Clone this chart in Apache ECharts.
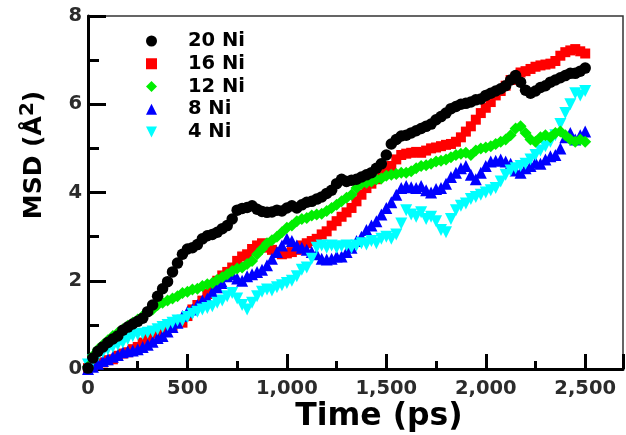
<!DOCTYPE html>
<html>
<head>
<meta charset="utf-8">
<script src="https://cdn.jsdelivr.net/npm/echarts@6/dist/echarts.min.js"></script>
<style>html,body{margin:0;padding:0;background:#fff;}#c{width:626px;height:435px;}</style>
</head>
<body>
<div id="c"></div>
<script>
const times = [0,25,50,75,100,125,150,175,200,225,250,275,300,325,350,375,400,425,450,475,500,525,550,575,600,625,650,675,700,725,750,775,800,825,850,875,900,925,950,975,1000,1025,1050,1075,1100,1125,1150,1175,1200,1225,1250,1275,1300,1325,1350,1375,1400,1425,1450,1475,1500,1525,1550,1575,1600,1625,1650,1675,1700,1725,1750,1775,1800,1825,1850,1875,1900,1925,1950,1975,2000,2025,2050,2075,2100,2125,2150,2175,2200,2225,2250,2275,2300,2325,2350,2375,2400,2425,2450,2475,2500];
const ni20 = [0.02,0.25,0.4,0.5,0.6,0.68,0.75,0.88,0.95,1.02,1.08,1.15,1.3,1.45,1.65,1.82,1.98,2.2,2.4,2.6,2.72,2.75,2.82,2.95,3.02,3.05,3.1,3.18,3.25,3.4,3.6,3.64,3.66,3.7,3.62,3.57,3.55,3.56,3.6,3.58,3.65,3.7,3.65,3.72,3.78,3.8,3.85,3.9,3.98,4.05,4.2,4.3,4.25,4.28,4.3,4.35,4.4,4.45,4.55,4.65,4.85,5.1,5.2,5.28,5.3,5.35,5.4,5.45,5.5,5.55,5.65,5.72,5.8,5.9,5.95,6.0,6.02,6.05,6.1,6.12,6.2,6.25,6.3,6.35,6.42,6.55,6.65,6.5,6.32,6.25,6.3,6.38,6.42,6.5,6.55,6.6,6.65,6.7,6.7,6.75,6.82];
const ni16 = [0.02,0.08,0.12,0.15,0.2,0.22,0.3,0.35,0.38,0.45,0.5,0.6,0.68,0.85,0.8,0.9,0.95,0.98,1.05,1.05,1.2,1.35,1.45,1.55,1.7,1.85,2.0,2.12,2.2,2.3,2.45,2.55,2.6,2.72,2.8,2.85,2.75,2.7,2.65,2.6,2.62,2.65,2.7,2.8,2.85,2.9,2.95,3.05,3.12,3.25,3.35,3.45,3.55,3.65,3.8,3.95,4.1,4.2,4.3,4.4,4.5,4.6,4.75,4.85,4.88,4.9,4.92,4.9,4.95,5.0,5.02,5.05,5.08,5.1,5.15,5.25,5.38,5.5,5.65,5.8,5.92,6.05,6.2,6.3,6.42,6.55,6.62,6.72,6.75,6.8,6.85,6.88,6.9,6.92,6.98,7.1,7.18,7.22,7.25,7.2,7.15];
const ni12 = [0.05,0.3,0.45,0.55,0.65,0.75,0.82,0.9,0.98,1.05,1.12,1.2,1.3,1.35,1.45,1.5,1.55,1.6,1.65,1.72,1.75,1.8,1.82,1.88,1.92,1.95,2.02,2.08,2.15,2.22,2.28,2.3,2.38,2.45,2.6,2.72,2.85,2.92,3.0,3.1,3.2,3.25,3.35,3.4,3.42,3.48,3.5,3.52,3.58,3.65,3.72,3.8,3.88,3.95,4.1,4.2,4.22,4.25,4.3,4.32,4.38,4.4,4.42,4.45,4.45,4.48,4.55,4.6,4.62,4.65,4.7,4.72,4.75,4.8,4.85,4.88,4.9,4.85,4.95,5.0,5.02,5.05,5.1,5.15,5.2,5.3,5.45,5.5,5.35,5.2,5.15,5.25,5.3,5.25,5.35,5.38,5.3,5.2,5.15,5.2,5.15];
const ni8 = [0.0,0.05,0.12,0.18,0.22,0.28,0.32,0.38,0.4,0.42,0.45,0.5,0.55,0.62,0.7,0.75,0.85,0.95,1.05,1.2,1.3,1.35,1.45,1.55,1.6,1.75,1.85,1.95,2.1,2.15,2.05,2.0,2.1,2.15,2.2,2.25,2.35,2.5,2.65,2.8,2.95,2.9,2.8,2.75,2.7,2.65,2.6,2.5,2.48,2.5,2.55,2.55,2.65,2.75,2.9,3.0,3.15,3.25,3.35,3.5,3.65,3.78,3.95,4.1,4.15,4.12,4.1,4.15,4.05,4.0,4.08,4.1,4.2,4.35,4.45,4.55,4.6,4.4,4.3,4.45,4.6,4.7,4.72,4.75,4.7,4.65,4.5,4.45,4.55,4.6,4.68,4.65,4.75,4.82,4.85,5.0,5.25,5.35,5.2,5.3,5.38];
const ni4 = [0.1,0.2,0.3,0.38,0.45,0.5,0.55,0.6,0.68,0.75,0.78,0.8,0.82,0.85,0.9,0.95,1.0,1.05,1.1,1.1,1.18,1.25,1.3,1.35,1.38,1.42,1.5,1.55,1.65,1.72,1.6,1.45,1.35,1.5,1.65,1.75,1.8,1.78,1.85,1.9,1.95,2.0,2.1,2.25,2.3,2.5,2.75,2.8,2.75,2.8,2.75,2.78,2.8,2.75,2.8,2.85,2.82,2.9,2.85,2.95,3.0,2.95,3.05,3.3,3.6,3.5,3.45,3.55,3.4,3.45,3.35,3.15,3.1,3.4,3.6,3.7,3.75,3.85,3.9,3.95,4.0,4.05,4.1,4.25,4.4,4.5,4.55,4.6,4.65,4.75,4.85,4.95,5.05,5.15,5.3,5.55,5.8,6.0,6.25,6.2,6.3];
const seriesNames = ['20 Ni','16 Ni','12 Ni','8 Ni','4 Ni'];
const xTicks = [0,500,1000,1500,2000,2500];
const yTicks = [0,2,4,6,8];

const pair = v => v.map((y,i)=>[times[i], y]);
const FONT = 'DejaVu Sans';
const chart = echarts.init(document.getElementById('c'), null, {renderer:'canvas'});
const XMAX = 2690;
const labelFmt = v => xTicks.indexOf(v) >= 0 ? v.toLocaleString('en-US') : '';
const INV_TRI = 'path://M0,0 L10,0 L5,10 Z';

chart.setOption({
  animation: false,
  backgroundColor: '#fff',
  grid: {left: 88, right: 1, top: 16, bottom: 66, show: true, borderColor: '#333', borderWidth: 1.5, backgroundColor: 'transparent'},
  legend: {
    data: seriesNames.map(n => n === '4 Ni' ? {name: n, icon: INV_TRI} : {name: n}),
    orient: 'vertical', left: 146, top: 31, padding: 0,
    itemWidth: 11, itemHeight: 11, itemGap: 2.75,
    itemStyle: {opacity: 1},
    textStyle: {fontFamily: FONT, fontWeight: 'bold', fontSize: 19.5, color: '#000', lineHeight: 20, padding: [0,0,0,26]}
  },
  xAxis: [{
    type: 'value', min: 0, max: XMAX, interval: 500,
    axisLine: {show: true, lineStyle: {color: '#000', width: 3}},
    axisTick: {show: true, inside: true, length: 15, lineStyle: {color: '#000', width: 3}},
    axisLabel: {formatter: labelFmt, margin: 10, fontFamily: FONT, fontWeight: 'bold', fontSize: 19.5, color: '#2b2b2b'},
    splitLine: {show: false}
  },{
    type: 'value', min: 0, max: XMAX, interval: 250, position: 'bottom',
    axisLine: {show: false},
    axisTick: {show: true, inside: true, length: 8, lineStyle: {color: '#000', width: 3}},
    axisLabel: {show: false}, splitLine: {show: false}
  }],
  yAxis: {
    type: 'value', min: 0, max: 8, interval: 2,
    axisLine: {show: true, lineStyle: {color: '#000', width: 3}},
    axisTick: {show: true, inside: true, length: 18, lineStyle: {color: '#000', width: 3}},
    minorTick: {show: true, splitNumber: 2, length: 11, lineStyle: {color: '#000', width: 3}},
    axisLabel: {margin: 6, fontFamily: FONT, fontWeight: 'bold', fontSize: 19.5, color: '#2b2b2b'},
    splitLine: {show: false}
  },
  graphic: [
    {type: 'text', x: 379, y: 417, style: {text: 'Time (ps)', fontFamily: FONT, fontWeight: 'bold', fontSize: 31.5, fill: '#000', align: 'center', verticalAlign: 'middle', textAlign: 'center', textVerticalAlign: 'middle'}},
    {type: 'text', x: 34, y: 155, rotation: Math.PI/2, style: {
      text: '{a|MSD (Å}{s|2}{a|)}', align: 'center', verticalAlign: 'middle', textAlign: 'center', textVerticalAlign: 'middle', fill: '#000',
      rich: {
        a: {fontFamily: FONT, fontWeight: 'bold', fontSize: 25, fill: '#000', color: '#000'},
        s: {fontFamily: FONT, fontWeight: 'bold', fontSize: 20, fill: '#000', color: '#000', padding: [0,0,12,0]}
      }
    }}
  ],
  series: [
    {name: '16 Ni', type: 'scatter', data: pair(ni16), symbol: 'rect', symbolSize: 10, itemStyle: {color: '#ff0000', opacity: 1}},
    {name: '8 Ni', type: 'scatter', data: pair(ni8), symbol: 'triangle', symbolSize: 12, itemStyle: {color: '#0000ff', opacity: 1}},
    {name: '4 Ni', type: 'scatter', data: pair(ni4), symbol: 'triangle', symbolRotate: 180, symbolSize: 12, itemStyle: {color: '#00ffff', opacity: 1}},
    {name: '12 Ni', type: 'scatter', data: pair(ni12), symbol: 'diamond', symbolSize: 12, itemStyle: {color: '#00ee00', opacity: 1}},
    {name: '20 Ni', type: 'scatter', data: pair(ni20), symbol: 'circle', symbolSize: 11.5, itemStyle: {color: '#000000', opacity: 1}}
  ]
});
</script>
</body>
</html>
